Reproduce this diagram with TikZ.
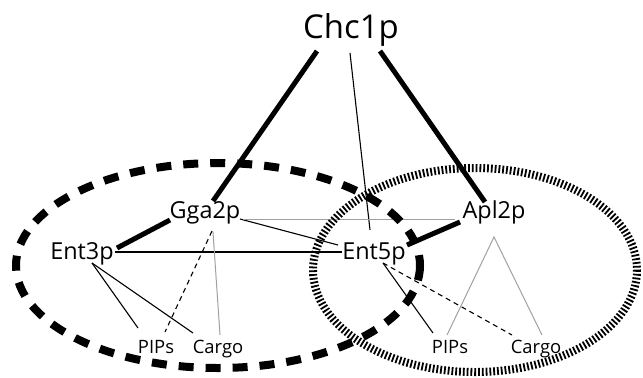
\documentclass[tikz,border=0pt]{standalone}
\usepackage{fontspec}
\setmainfont{Open Sans}
\definecolor{lgray}{HTML}{A0A0A0}
\tikzstyle{protein} = [inner sep=0pt, anchor=base, font=\fontsize{23.5}{23.5}\selectfont]
\tikzstyle{coat} = [protein, font=\fontsize{33}{33}\selectfont]
\tikzstyle{target} = [protein, font=\fontsize{18.5}{18.5}\selectfont]
\tikzstyle{strong} = [line width=5bp]
\tikzstyle{weak} = [line width=1.1bp]
\tikzstyle{putative} = [line width=1.1bp, dash pattern=on 5bp off 4bp]
\tikzstyle{indirect} = [line width=1bp, lgray]
\tikzstyle{golgi} = [line width=8bp, dash pattern=on 15bp off 12bp]
\tikzstyle{endo} = [line width=8bp, dash pattern=on 1.8bp off 2bp]

\begin{document}
\begin{tikzpicture}[x=1bp, y=-1bp]
\useasboundingbox (0,0) rectangle (643,377);
%Proteins
\node (chc) [coat] at (351,38) {Chc1p};
\node (gga) [protein] at (205,218) {Gga2p};
\node (apl) [protein] at (494,218) {Apl2p};
\node (ent3) [protein] at (82,259) {Ent3p};
\node (ent5) [protein] at (374,259) {Ent5p};
\node (pips1) [target] at (156,353) {PIPs};
\node (cargo1) [target] at (218,353) {Cargo};
\node (pips2) [target] at (450,353) {PIPs};
\node (cargo2) [target] at (536,353) {Cargo};
%Interactions
\draw [strong] ([shift={(-34,13)}]chc.base) -- ([shift={(8,-17)}]gga.base);
\draw [strong] ([shift={(29,13)}]chc.base) -- ([shift={(-9,-16)}]apl.base);
\draw [weak] ([shift={(-1,15)}]chc.base) -- ([shift={(-4,-29)}]ent5.base);
\draw [strong] ([shift={(-35,2)}]gga.base) -- ([shift={(35,-11)}]ent3.base);
\draw [strong] ([shift={(-34,4)}]apl.base) -- ([shift={(33,-14)}]ent5.base);
\draw [weak] ([shift={(33,-7)}]ent3.base) -- ([shift={(-32,-7)}]ent5.base);
\draw [weak] ([shift={(35,1)}]gga.base) -- ([shift={(-36,-14)}]ent5.base);
\draw [indirect] ([shift={(38,1)}]gga.base) -- ([shift={(-39,1)}]apl.base);
\draw [weak] ([shift={(10,4)}]ent3.base) -- ([shift={(-18,-25)}]pips1.base);
\draw [weak] ([shift={(10,4)}]ent3.base) -- ([shift={(-25,-20)}]cargo1.base);
\draw [putative] ([shift={(7,13)}]gga.base) -- ([shift={(9,-21)}]pips1.base);
\draw [indirect] ([shift={(8,14)}]gga.base) -- ([shift={(2,-18)}]cargo1.base);
\draw [weak] ([shift={(9,4)}]ent5.base) -- ([shift={(-17,-20)}]pips2.base);
\draw [putative] ([shift={(9,4)}]ent5.base) -- ([shift={(-24,-18)}]cargo2.base);
\draw [indirect] ([shift={(-3,-18)}]pips2.base) -- ([shift={(0,19)}]apl.base) -- ([shift={(6,-18)}]cargo2.base);
%Compartments
\draw [endo] (475,270) ellipse [x radius=162, y radius=102];
\draw [golgi] (218,265.5) ellipse [x radius=202, y radius=102.5];
\end{tikzpicture}
\end{document}
